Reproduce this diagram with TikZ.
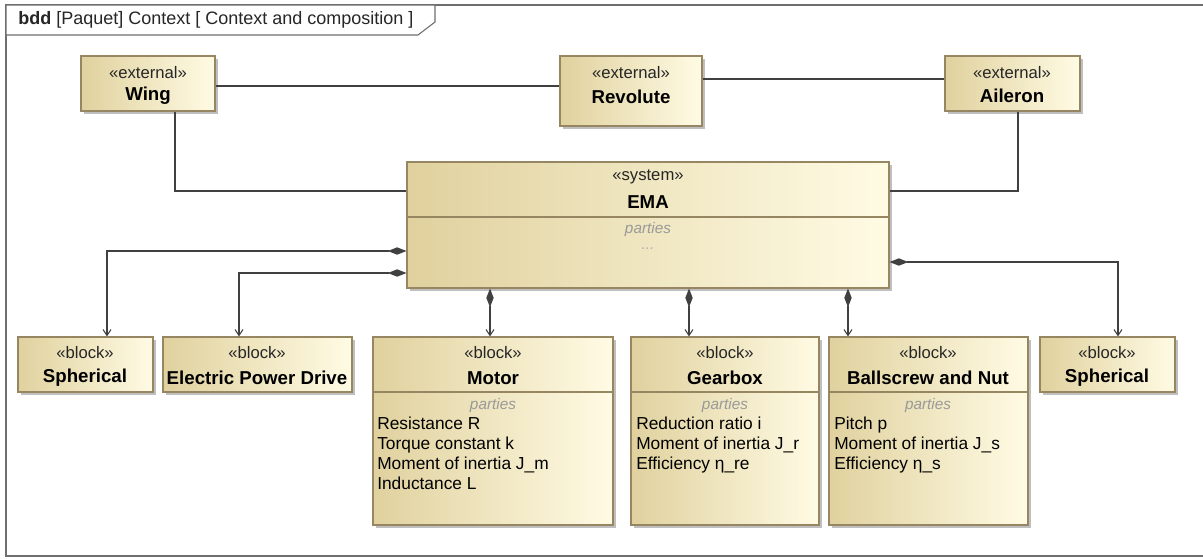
\documentclass[tikz,border=0pt]{standalone}
\usepackage{fontspec}
\setmainfont{Liberation Sans}
\usetikzlibrary{arrows.meta,shadows,fit,positioning}
\definecolor{sysdark}{RGB}{224,209,158}
\definecolor{syslight}{RGB}{255,251,228}
\definecolor{sysline}{RGB}{150,134,98}
\definecolor{linkgray}{RGB}{64,64,64}
\definecolor{framegray}{RGB}{110,110,110}
\tikzstyle{assoc} = [line width=0.8pt, color=linkgray]
\tikzstyle{compo} = [assoc, {Diamond[length=14pt,width=5.5pt]}-{Straight Barb[length=4.5pt,width=6pt]}]

\begin{document}
\begin{tikzpicture}[x=0.75pt, y=-0.75pt,
    umlbox/.style={draw=sysline, line width=0.8pt, left color=sysdark, right color=syslight, inner sep=0pt,
      drop shadow={shadow xshift=2.2pt, shadow yshift=-2.2pt, fill=black!45, opacity=0.55}},
    stereo/.style={font=\fontsize{12.5}{14}\selectfont, text=black!85, inner sep=0pt},
    bname/.style={font=\fontsize{14}{16}\selectfont\bfseries, inner sep=0pt},
    parts/.style={font=\fontsize{11.5}{13}\selectfont\itshape, text=black!40, inner sep=0pt},
    attr/.style={font=\fontsize{13}{15}\selectfont, anchor=west, inner sep=0pt, text height=9.5pt, text depth=2.5pt}]

\useasboundingbox (0,0) rectangle (1203,558);
\fill[white] (0,0) rectangle (1203,558);

% Frame and title tab
\draw[framegray, line width=0.8pt] (1203,5) -- (6,5) -- (6,556) -- (1203,556);
\draw[framegray, line width=0.8pt, fill=white] (6,5) -- (435,5) -- (435,22) -- (418,35) -- (6,35) -- cycle;
\node[anchor=west, inner sep=0pt, text=black!85, font=\fontsize{13.5}{15}\selectfont] (title) at (18,20)
  {\textbf{bdd} [Paquet] Context [ Context and composition ]};

% External blocks
\node[umlbox, fit={(81,56) (215,111)}] (wing) {};
\node[stereo] (wingst) at (148,73) {«external»};
\node[bname] (wingnm) at (148,96) {Wing};

\node[umlbox, fit={(560,56) (702,126)}] (revolute) {};
\node[stereo] (revst) at (631,73) {«external»};
\node[bname] (revnm) at (631,97) {Revolute};

\node[umlbox, fit={(945,56) (1080,111)}] (aileron) {};
\node[stereo] (ailst) at (1012,73) {«external»};
\node[bname] (ailnm) at (1012,96) {Aileron};

% System
\node[umlbox, fit={(407,162) (889,288)}] (ema) {};
\draw[sysline, line width=0.8pt] (ema.west |- 0,217) -- (ema.east |- 0,217);
\node[stereo] (emast) at (648,177) {«system»};
\node[bname] (emanm) at (648,202) {EMA};
\node[parts] (emapt) at (648,230) {parties};
\node[parts, text=black!30] (emadots) at (648,249) {...};

% Parts
\node[umlbox, fit={(18,337) (153,392)}] (sphl) {};
\node[stereo] (sphlst) at (85,353) {«block»};
\node[bname] (sphlnm) at (85,378) {Spherical};

\node[umlbox, fit={(163,337) (352,392)}] (epd) {};
\node[stereo] (epdst) at (257,353) {«block»};
\node[bname] (epdnm) at (257,378) {Electric Power Drive};

\node[umlbox, fit={(373,337) (613,525)}] (motor) {};
\draw[sysline, line width=0.8pt] (motor.west |- 0,392) -- (motor.east |- 0,392);
\node[stereo] (motorst) at (493,353) {«block»};
\node[bname] (motornm) at (493,378) {Motor};
\node[parts] (motorpt) at (493,406) {parties};
\node[attr] (motora) at (377,425) {Resistance R};
\node[attr] (motorb) at (377,445) {Torque constant k};
\node[attr] (motorc) at (377,465) {Moment of inertia J\_m};
\node[attr] (motord) at (377,485) {Inductance L};

\node[umlbox, fit={(631,337) (819,525)}] (gearbox) {};
\draw[sysline, line width=0.8pt] (gearbox.west |- 0,392) -- (gearbox.east |- 0,392);
\node[stereo] (gearst) at (725,353) {«block»};
\node[bname] (gearnm) at (725,378) {Gearbox};
\node[parts] (gearpt) at (725,406) {parties};
\node[attr] (geara) at (636,425) {Reduction ratio i};
\node[attr] (gearb) at (636,445) {Moment of inertia J\_r};
\node[attr] (gearc) at (636,465) {Efficiency η\_re};

\node[umlbox, fit={(829,337) (1028,525)}] (ballscrew) {};
\draw[sysline, line width=0.8pt] (ballscrew.west |- 0,392) -- (ballscrew.east |- 0,392);
\node[stereo] (ballst) at (928,353) {«block»};
\node[bname] (ballnm) at (928,378) {Ballscrew and Nut};
\node[parts] (ballpt) at (928,406) {parties};
\node[attr] (balla) at (834,425) {Pitch p};
\node[attr] (ballb) at (834,445) {Moment of inertia J\_s};
\node[attr] (ballc) at (834,465) {Efficiency η\_s};

\node[umlbox, fit={(1040,337) (1175,392)}] (sphr) {};
\node[stereo] (sphrst) at (1107,353) {«block»};
\node[bname] (sphrnm) at (1107,378) {Spherical};

% Associations
\draw[assoc] (wing.east |- 0,86) -- (revolute.west |- 0,86);
\draw[assoc] (revolute.east |- 0,79) -- (aileron.west |- 0,79);
\draw[assoc] (175,0 |- wing.south) |- (ema.west |- 0,191);
\draw[assoc] (1018,0 |- aileron.south) |- (ema.east |- 0,191);

% Compositions
\draw[compo] (ema.west |- 0,251) -| (107,0 |- sphl.north);
\draw[compo] (ema.west |- 0,273) -| (239,0 |- epd.north);
\draw[compo] (490,0 |- ema.south) -- (490,0 |- motor.north);
\draw[compo] (689,0 |- ema.south) -- (689,0 |- gearbox.north);
\draw[compo] (848,0 |- ema.south) -- (848,0 |- ballscrew.north);
\draw[compo] (ema.east |- 0,262) -| (1118,0 |- sphr.north);

\end{tikzpicture}
\end{document}
